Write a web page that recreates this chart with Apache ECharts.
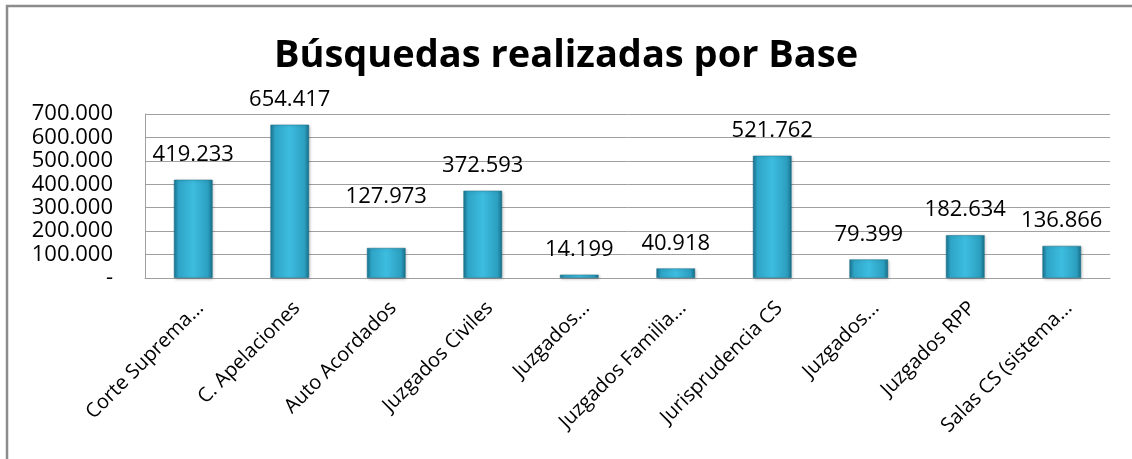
<!DOCTYPE html>
<html>
<head>
<meta charset="utf-8">
<script src="https://cdn.jsdelivr.net/npm/echarts@6/dist/echarts.min.js"></script>
<style>html,body{margin:0;padding:0;background:#fff;overflow:hidden}#c{width:1132px;height:459px}</style>
</head>
<body>
<div id="c"></div>
<script>
var title = 'Búsquedas realizadas por Base';
var categories = ['Corte Suprema...', 'C. Apelaciones', 'Auto Acordados', 'Juzgados Civiles', 'Juzgados...', 'Juzgados Familia...', 'Jurisprudencia CS', 'Juzgados...', 'Juzgados RPP', 'Salas CS (sistema...'];
var values = [419233, 654417, 127973, 372593, 14199, 40918, 521762, 79399, 182634, 136866];
var yTicks = {min: 0, max: 700000, interval: 100000};

function fmt(v) {
  if (v === 0) return '-';
  return String(v).replace(/\B(?=(\d{3})+(?!\d))/g, '.');
}
var FONT = '"Open Sans", "Noto Sans", sans-serif';
var barColor = new echarts.graphic.LinearGradient(0, 0, 1, 0, [
  {offset: 0, color: '#1a7591'},
  {offset: 0.12, color: '#2ea4c6'},
  {offset: 0.5, color: '#3dbde0'},
  {offset: 0.88, color: '#2c9fc0'},
  {offset: 1, color: '#186f89'}
]);
var data = values.map(function (v, i) {
  var d = {value: v};
  if (i === 2) d.label = {distance: 40};
  return d;
});
var chart = echarts.init(document.getElementById('c'), null, {renderer: 'canvas'});
chart.setOption({
  animation: false,
  backgroundColor: '#fff',
  title: {
    text: title, left: 'center', top: 32,
    textStyle: {fontFamily: FONT, fontWeight: 'bold', fontSize: 38, color: '#000'}
  },
  graphic: [{
    type: 'polyline', shape: {points: [[7, 470], [7, 6], [1132, 6]]},
    style: {fill: 'none', stroke: '#8c8c8c', lineWidth: 2.5}, silent: true
  }],
  grid: {left: 145, right: 22, top: 114, bottom: 181, containLabel: false},
  xAxis: {
    type: 'category', data: categories,
    axisLine: {show: true, lineStyle: {color: '#a0a0a0'}},
    axisTick: {show: false},
    axisLabel: {rotate: 45, interval: 0, fontFamily: FONT, fontSize: 20, color: '#000', margin: 20, verticalAlign: 'top', align: 'right'}
  },
  yAxis: {
    type: 'value', min: yTicks.min, max: yTicks.max, interval: yTicks.interval,
    axisLine: {show: true, lineStyle: {color: '#a0a0a0'}},
    axisTick: {show: false},
    splitLine: {show: true, lineStyle: {color: '#a0a0a0', width: 1}},
    axisLabel: {formatter: fmt, fontFamily: FONT, fontSize: 22, color: '#000', margin: 32}
  },
  series: [{
    type: 'bar', data: data, barWidth: '40%',
    itemStyle: {color: barColor, borderColor: '#1a6f88', borderWidth: 0.5,
      shadowColor: 'rgba(0,0,0,0.25)', shadowBlur: 3, shadowOffsetX: 1, shadowOffsetY: 1},
    label: {show: true, position: 'top', distance: 14, formatter: function (p) { return fmt(p.value); },
      fontFamily: FONT, fontSize: 22, color: '#000'}
  }]
});
</script>
</body>
</html>
